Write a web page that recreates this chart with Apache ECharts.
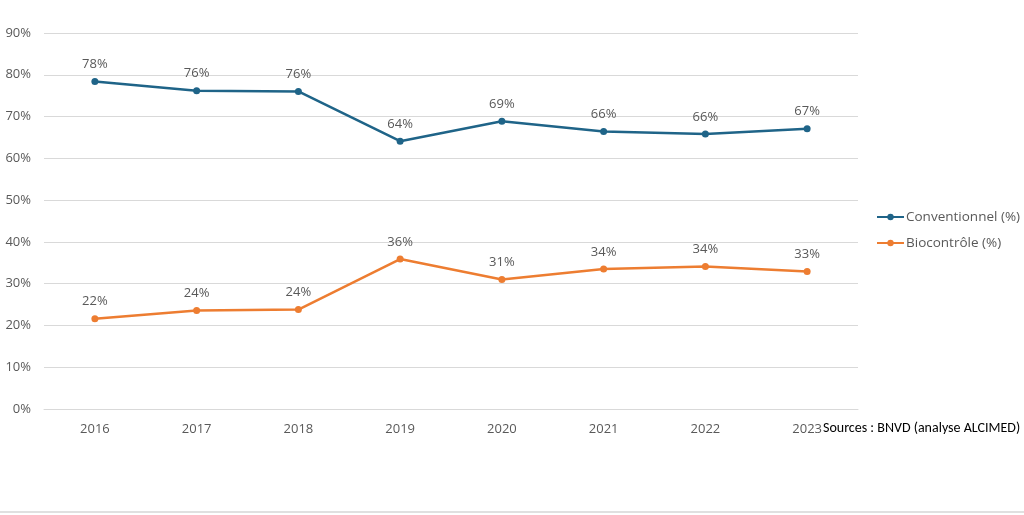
<!DOCTYPE html>
<html><head><meta charset="utf-8">
<script src="https://cdn.jsdelivr.net/npm/echarts@6/dist/echarts.min.js"></script>
<style>html,body{margin:0;padding:0;background:#fff}#c{width:1024px;height:515px}</style>
</head><body><div id="c"></div>
<script>
const years = ['2016','2017','2018','2019','2020','2021','2022','2023'];
const conventionnel = [78.4, 76.2, 76.0, 64.1, 68.9, 66.4, 65.8, 67.1];
const biocontrole = [21.6, 23.6, 23.8, 35.9, 31.0, 33.5, 34.1, 32.9];
const seriesNames = ['Conventionnel (%)', 'Biocontrôle (%)'];
const yTicks = [0, 10, 20, 30, 40, 50, 60, 70, 80, 90];
const sourceText = 'Sources : BNVD (analyse ALCIMED)';

const font = '"Open Sans", sans-serif';
const gray = '#595959';
const chart = echarts.init(document.getElementById('c'));
const mk = (name, data, color) => ({
  name, type: 'line', data, color,
  symbol: 'circle', symbolSize: 7,
  lineStyle: {width: 2.5, color},
  itemStyle: {color},
  label: {show: true, position: 'top', distance: 7, color: gray, fontSize: 13, fontFamily: font,
    formatter: p => Math.round(p.value) + '%'}
});
chart.setOption({
  animation: false,
  grid: {left: 44, right: 166, top: 33, bottom: 106},
  xAxis: {type: 'category', data: years, boundaryGap: true,
    axisLine: {lineStyle: {color: '#d9d9d9'}}, axisTick: {show: false},
    axisLabel: {color: gray, fontSize: 13, fontFamily: font, margin: 14}},
  yAxis: {type: 'value', min: yTicks[0], max: yTicks[yTicks.length-1], interval: 10,
    axisLine: {show: false}, axisTick: {show: false},
    splitLine: {lineStyle: {color: '#d9d9d9'}},
    axisLabel: {color: gray, fontSize: 13, fontFamily: font, margin: 13, formatter: v => v + '%'}},
  legend: {orient: 'vertical', left: 871, top: 205, itemGap: 12, itemWidth: 27, itemHeight: 8,
    textStyle: {color: gray, fontSize: 13.5, fontFamily: font, padding: [0,0,0,-3]},
    data: seriesNames},
  series: [mk(seriesNames[0], conventionnel, '#1f6488'), mk(seriesNames[1], biocontrole, '#ed7d31')],
  graphic: [
    {type: 'text', left: 823, top: 421, style: {text: sourceText, fill: '#000', fontSize: 14, fontFamily: 'Carlito, Calibri, sans-serif'}},
    {type: 'rect', left: 0, top: 511, shape: {width: 1024, height: 2}, style: {fill: '#e0e0e0'}}
  ]
});
</script></body></html>
